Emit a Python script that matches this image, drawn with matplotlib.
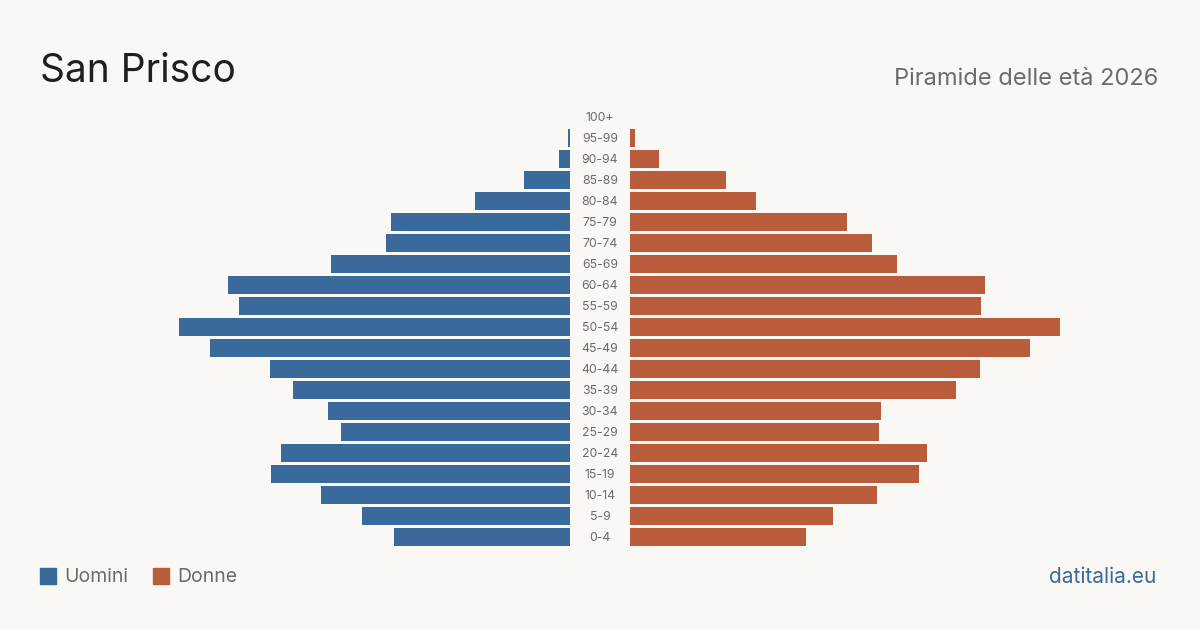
import matplotlib.pyplot as plt

plt.rcParams['font.family'] = ['Inter', 'DejaVu Sans']

# Age classes (bottom to top)
ages = ['0-4', '5-9', '10-14', '15-19', '20-24', '25-29', '30-34', '35-39',
        '40-44', '45-49', '50-54', '55-59', '60-64', '65-69', '70-74',
        '75-79', '80-84', '85-89', '90-94', '95-99', '100+']

# Estimated population
men = [176, 208, 249, 299, 289, 229, 242, 277, 300, 360, 391,
       331, 342, 239, 184, 179, 95, 46, 11, 2, 0]
women = [176, 203, 247, 289, 297, 249, 251, 326, 350, 400, 430,
         351, 355, 267, 242, 217, 126, 96, 29, 5, 0]

bg = '#f9f8f4'
blue = '#3a6a9c'
orange = '#b85c3c'
grey = '#6b6b6b'

W, H = 1200, 630
fig = plt.figure(figsize=(12, 6.3), dpi=100, facecolor=bg)

y0, y1 = 106.5, 547.5
bottom = (H - y1) / H
height = (y1 - y0) / H

# left axes: men, bars grow to the left from x=570
axl = fig.add_axes([170 / W, bottom, 400 / W, height])
axr = fig.add_axes([630 / W, bottom, 440 / W, height])
pos = list(range(len(ages)))
axl.barh(pos, men, height=0.81, color=blue)
axl.set_xlim(400, 0)
axr.barh(pos, women, height=0.81, color=orange)
axr.set_xlim(0, 440)
for ax in (axl, axr):
    ax.set_ylim(-0.5, len(ages) - 0.5)
    ax.axis('off')

# age labels in the gap
for i, a in enumerate(ages):
    axr.text(-30, i - 0.03, a, ha='center', va='center', fontsize=8.8,
             color=grey)

fig.text(40 / W, 1 - 82 / H, 'San Prisco', fontsize=28, color='#1f1f1f',
         ha='left', va='baseline')
fig.text(1158 / W, 1 - 85 / H, 'Piramide delle età 2026', fontsize=17,
         color=grey, ha='right', va='baseline')

# legend
fig.patches.append(plt.Rectangle((40 / W, 1 - 584 / H), 16 / W, 16 / H,
                                 transform=fig.transFigure, color=blue))
fig.text(64 / W, 1 - 577 / H, 'Uomini', fontsize=14, color=grey,
         ha='left', va='center')
fig.patches.append(plt.Rectangle((153 / W, 1 - 584 / H), 16 / W, 16 / H,
                                 transform=fig.transFigure, color=orange))
fig.text(177 / W, 1 - 577 / H, 'Donne', fontsize=14, color=grey,
         ha='left', va='center')

fig.text(1156 / W, 1 - 577 / H, 'datitalia.eu', fontsize=15, color=blue,
         ha='right', va='center')

fig.savefig('out.png', dpi=100, facecolor=bg)
